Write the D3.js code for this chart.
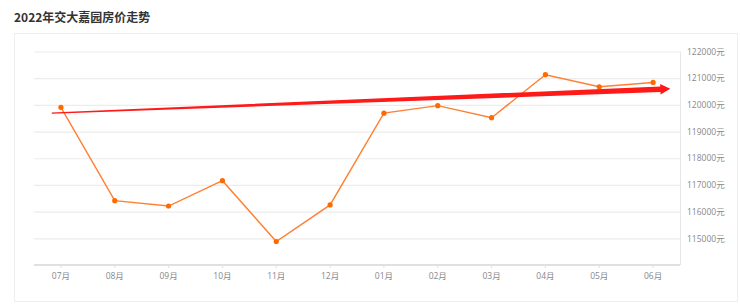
<!DOCTYPE html>
<html><head><meta charset="utf-8">
<script src="https://cdn.jsdelivr.net/npm/d3@7"></script>
<style>
html,body{margin:0;padding:0;background:#fff;}
svg{display:block;font-family:"Open Sans","Noto Sans CJK SC",sans-serif;}
</style></head><body>
<svg id="c" width="740" height="304"></svg>
<script>
const title = "2022年交大嘉园房价走势";
const months = ["07月","08月","09月","10月","11月","12月","01月","02月","03月","04月","05月","06月"];
const prices = [119910,116410,116210,117160,114880,116250,119690,119970,119520,121130,120680,120840];
const yTicks = [115000,116000,117000,118000,119000,120000,121000,122000];
const yDomain = [114000,122000];
// trend arrow endpoints (in data terms: band offset from first/last month, price)
const trendStart = {month:"07月", offset:-0.17, value:119690};
const trendEnd = {month:"06月", offset:0.32, value:120600};

const svg = d3.select("#c");
const L=34, R=680, T=51.5, B=265;

// card
svg.append("rect").attr("x",14.5).attr("y",33.5).attr("width",723).attr("height",268)
  .attr("fill","#fff").attr("stroke","#eeeeee");
svg.append("text").attr("x",14).attr("y",22).attr("font-size",12).attr("font-weight","bold")
  .attr("fill","#333").attr("font-family","'Noto Sans CJK SC',sans-serif").text(title);

const x = d3.scaleBand().domain(months).range([L,R]);
const y = d3.scaleLinear().domain(yDomain).range([B,T]);
const cx = m => x(m)+x.bandwidth()/2;

// grid
const gy = svg.append("g").attr("transform",`translate(${R},0)`)
  .call(d3.axisRight(y).tickValues(yTicks.concat()).tickSize(-(R-L)).tickFormat(d=>d+"元"));
gy.select(".domain").remove();
gy.selectAll(".tick line").attr("stroke","#ececec").attr("stroke-width",1.2);
gy.selectAll(".tick text").attr("x",7).attr("fill","#888").attr("font-size",8.5)
  .attr("font-family","'Open Sans','Noto Sans CJK SC',sans-serif");
// right vertical border
svg.append("line").attr("x1",R+0.5).attr("x2",R+0.5).attr("y1",T).attr("y2",B).attr("stroke","#e6e6e6");

// x axis
const gx = svg.append("g").attr("transform",`translate(0,${B})`)
  .call(d3.axisBottom(x).tickSize(3).tickPadding(5));
gx.select(".domain").attr("stroke","#e0e0e0").attr("stroke-width",2).attr("d",`M${L},0H${R}`);
gx.selectAll(".tick line").attr("stroke","#e0e0e0");
gx.selectAll(".tick text").attr("fill","#888").attr("font-size",8.5)
  .attr("font-family","'Open Sans','Noto Sans CJK SC',sans-serif");

// line
const data = months.map((m,i)=>({m,v:prices[i]}));
svg.append("path").datum(data).attr("fill","none").attr("stroke","#ff8033").attr("stroke-width",1.4)
  .attr("d",d3.line().x(d=>cx(d.m)).y(d=>y(d.v)));
svg.selectAll("circle.pt").data(data).join("circle").attr("class","pt")
  .attr("cx",d=>cx(d.m)).attr("cy",d=>y(d.v)).attr("r",2.6).attr("fill","#ff6a00");

// trend arrow (tapered)
const x0 = cx(trendStart.month)+trendStart.offset*x.step(), y0 = y(trendStart.value);
const x1 = cx(trendEnd.month)+trendEnd.offset*x.step(), y1 = y(trendEnd.value);
const len = Math.hypot(x1-x0,y1-y0), ux=(x1-x0)/len, uy=(y1-y0)/len, nx=-uy, ny=ux;
const headL=10, headW=5.2, w0=0.7, w1=2.8;
const hb = [x1-ux*headL, y1-uy*headL];
const pts = [
  [x0+nx*w0, y0+ny*w0],
  [hb[0]+nx*w1, hb[1]+ny*w1],
  [hb[0]+nx*headW, hb[1]+ny*headW],
  [x1,y1],
  [hb[0]-nx*headW, hb[1]-ny*headW],
  [hb[0]-nx*w1, hb[1]-ny*w1],
  [x0-nx*w0, y0-ny*w0]
];
svg.append("path").attr("d","M"+pts.map(p=>p.join(",")).join("L")+"Z").attr("fill","#ff1a1a");
</script></body></html>
